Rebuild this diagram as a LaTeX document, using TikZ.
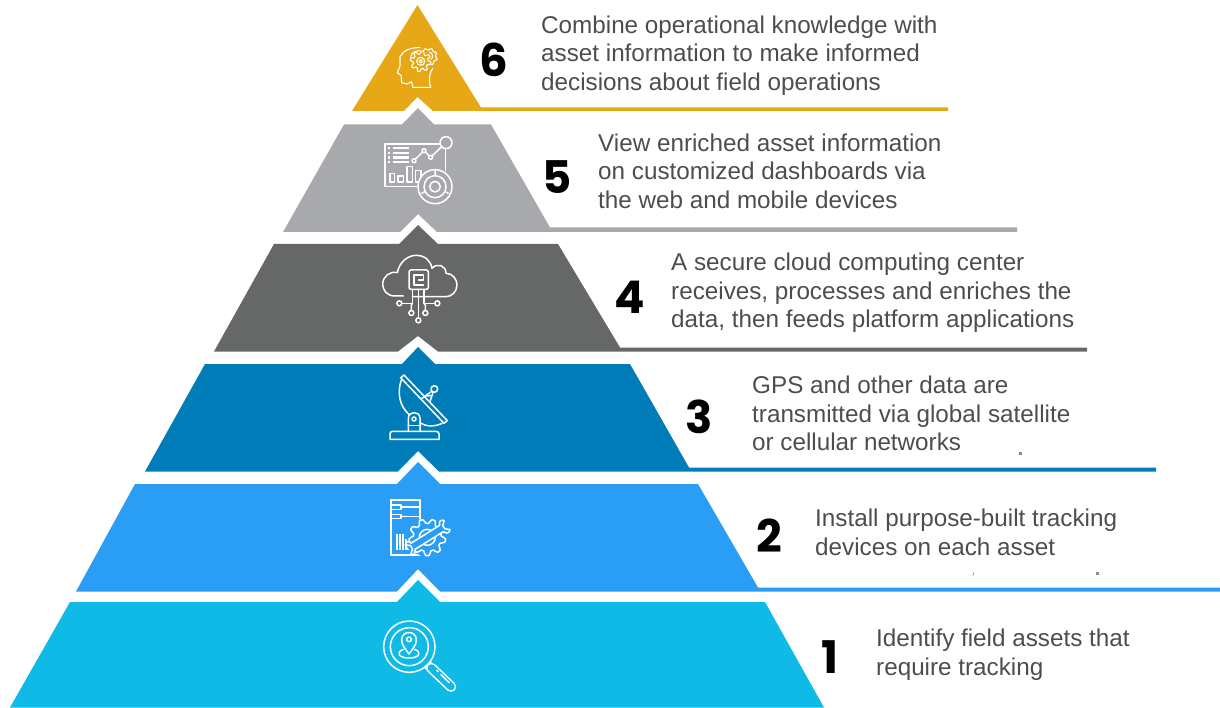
\documentclass[tikz,border=0pt]{standalone}
\usepackage{fontspec}
\setmainfont{Liberation Sans}
\newfontfamily\numfont{Poppins}
\definecolor{tsix}{HTML}{E6A817}
\definecolor{tfive}{HTML}{A7A9AC}
\definecolor{tfour}{HTML}{666867}
\definecolor{tthree}{HTML}{007DB8}
\definecolor{ttwo}{HTML}{2A9DF4}
\definecolor{tone}{HTML}{10BAE6}
\definecolor{bodytxt}{HTML}{4D4D4D}
\newcommand\cogpath[5]{%
  plot[samples=#5*8+1,domain=0:360,variable=\t]
  ({#1+(#3+(#4-#3)*max(0,min(1,2*sin(#5*\t)+0.5)))*cos(\t)},{#2+(#3+(#4-#3)*max(0,min(1,2*sin(#5*\t)+0.5)))*sin(\t)}) -- cycle}
\tikzset{
  desc/.style={anchor=west,align=left,inner sep=0pt,text=bodytxt,font=\fontsize{24.25}{28.7}\selectfont},
  num/.style={inner sep=0pt,text=black,font=\numfont\bfseries\fontsize{45}{45}\selectfont},
  ico/.style={draw=white,line width=1.5pt,line join=round,line cap=round},
  icosm/.style={draw=white,line width=1.1pt,line join=round,line cap=round},
  zoomed/.style={x=0.33333pt,y=-0.33333pt},
  stray/.style={fill=black!45,draw=none}
}
\begin{document}
\begin{tikzpicture}[x=1pt,y=-1pt]
\useasboundingbox (0,0) rectangle (1220,708);
% tiers
\fill[tsix] (417.5,5) -- (481,107.5) -- (948,107.5) -- (948,111) -- (433,111) -- (417.5,97) -- (404,111) -- (352,111) -- cycle;
\fill[tfive] (344,124.5) -- (402,124.5) -- (418,108) -- (434,124.5) -- (491,124.5) -- (550,227.5) -- (1017,227.5) -- (1017,232) -- (437,232) -- (418,214) -- (400,232) -- (283,232) -- cycle;
\fill[tfour] (274,244) -- (399,244) -- (418,225) -- (438,244) -- (558,244) -- (620,347.5) -- (1087,347.5) -- (1087,351.5) -- (438,351.5) -- (418,336) -- (398,351.5) -- (214,351.5) -- cycle;
\fill[tthree] (205,364) -- (402,364) -- (418,347) -- (435,364) -- (630,364) -- (689,467.5) -- (1156,467.5) -- (1156,471.5) -- (439,471.5) -- (418,451) -- (398,471.5) -- (145,471.5) -- cycle;
\fill[ttwo] (135,484) -- (397,484) -- (418,462) -- (440,484) -- (698,484) -- (758,587.5) -- (1220,587.5) -- (1220,591.5) -- (440,591.5) -- (418,569) -- (397,591.5) -- (76,591.5) -- cycle;
\fill[tone] (70,602) -- (397,602) -- (418,580) -- (440,602) -- (765,602) -- (824,707.5) -- (10,707.5) -- cycle;
% numbers
\node[num] (n6) at (493.5,60) {6};
\node[num] (n5) at (557,177.5) {5};
\node[num] (n4) at (629.5,297) {4};
\node[num] (n3) at (699.5,416.5) {3};
\node[num] (n2) at (769,536) {2};
\node[num] (n1) at (830,657) {1};
% texts
\node[desc] (t6) at (541,56) {\strut Combine operational knowledge with\\\strut asset information to make informed\\\strut decisions about field operations};
\node[desc] (t5) at (598,174) {\strut View enriched asset information\\\strut on customized dashboards via\\\strut the web and mobile devices};
\node[desc] (t4) at (671,293.5) {\strut A secure cloud computing center\\\strut receives, processes and enriches the\\\strut data, then feeds platform applications};
\node[desc] (t3) at (752,416.5) {\strut GPS and other data are\\\strut transmitted via global satellite\\\strut or cellular networks};
\node[desc] (t2) at (815,535) {\strut Install purpose-built tracking\\\strut devices on each asset};
\node[desc] (t1) at (876,655) {\strut Identify field assets that\\\strut require tracking};
% stray marks
\fill[stray] (1019,452) rectangle (1021.5,455);
\fill[stray] (1096,571.5) rectangle (1099,574.5);
\draw[black!45,line width=0.8pt] (972.8,575.5) -- (973.8,572.5);
% icon 6: head with gears
\begin{scope}[zoomed,shift={(340pt,0pt)}]
\draw[icosm] (272,262) -- (218,262) -- (215,245) -- (200,252) -- (185,248) -- (183,226) -- (172,218) -- (180,198) -- (180,170) .. controls (190,150) and (215,142) .. (240,143);
\draw[icosm] (272,262) .. controls (266,240) and (266,225) .. (278,205);
\draw[icosm] (212,172) .. controls (212,160) and (225,152) .. (240,152);
\draw[icosm] \cogpath{242}{184}{22}{31}{8};
\draw[icosm] (242,184) circle (12);
\draw[icosm] (242,184) circle (5);
\draw[icosm] (250,152) -- (255,146) -- (265,150) -- (275,145) -- (280,155) -- (290,158) -- (286,168) -- (292,178) -- (282,184) -- (278,194) -- (268,192);
\draw[icosm] (268,156) .. controls (280,158) and (280,176) .. (272,178);
\end{scope}
% icon 5: dashboard
\begin{scope}[zoomed,shift={(340pt,0pt)}]
\draw[ico] (300,432) -- (135,432) -- (135,560) -- (240,560);
\draw[ico] (316,446) -- (316,512);
\draw[ico] (318,428) circle (18);
\draw[ico] (222,482) circle (6);
\draw[ico] (252,452) circle (6);
\draw[ico] (272,472) circle (6);
\draw[ico] (226,478) -- (248,456) (256,456) -- (268,468) (276,468) -- (304,441);
\foreach \yy in {445,459,473,487} {
  \fill[white] (144,\yy-3.5) rectangle (151,\yy+3.5);
  \fill[white] (158,\yy-3.5) rectangle (207,\yy+3.5);
}
\draw[ico] (150,520) rectangle (163,546);
\draw[ico] (174,528) rectangle (190,546);
\draw[ico] (201,500) rectangle (217,546);
\draw[ico] (227,512) rectangle (243,546);
\fill[tfive] (285,560) circle (52);
\draw[ico] (285,560) circle (51);
\draw[ico] (285,560) circle (33);
\draw[ico] (285,560) circle (16);
\draw[ico] (285,510) -- (285,527) (245,580) -- (256,574) (325,580) -- (314,574);
\end{scope}
% icon 4: cloud chip
\begin{scope}[zoomed,shift={(340pt,-230pt)}]
\draw[ico] (190,198) -- (165,198) .. controls (140,198) and (128,180) .. (128,162) .. controls (128,140) and (150,122) .. (172,128) .. controls (178,95) and (205,76) .. (228,76) .. controls (255,76) and (272,92) .. (276,115) .. controls (290,98) and (318,105) .. (318,130) .. controls (338,130) and (351,148) .. (351,165) .. controls (351,185) and (335,200) .. (318,200) -- (218,200);
\fill[tfour] (205,118) rectangle (267,180);
\draw[ico,rounded corners=2pt] (207,120) rectangle (265,178);
\draw[ico] (250,165) -- (222,165) -- (222,135) -- (250,135) -- (250,150) -- (236,150);
\draw[ico] (217,178) -- (217,220) -- (186,220);
\draw[ico] (235,178) -- (235,263);
\draw[ico] (252,178) -- (252,220) -- (284,220);
\draw[ico] (214,241) -- (214,225) -- (217,220);
\draw[ico] (256,241) -- (256,225) -- (252,220);
\foreach \cx/\cy in {178/220,292/220,214/249,256/249,235/271} \draw[ico] (\cx,\cy) circle (7.5);
\end{scope}
% icon 3: satellite dish
\begin{scope}[zoomed,shift={(340pt,-230pt)}]
\draw[ico] (182,443) -- (192,435) -- (322,572) -- (312,580) -- cycle;
\draw[ico] (184,450) .. controls (170,490) and (180,530) .. (207,553);
\draw[ico] (240,578) .. controls (262,592) and (285,590) .. (306,580);
\draw[ico] (246,505) -- (275,484) (270,515) -- (279,487) (258,498) -- (272,497);
\draw[ico] (283,477) circle (10);
\draw[ico] (205,603) -- (205,565) .. controls (205,542) and (240,542) .. (240,565) -- (240,603);
\draw[ico] (222,567) circle (6);
\draw[ico] (205,586) -- (240,586);
\draw[ico] (150,628) -- (150,612) .. controls (150,607) and (152,604) .. (158,604) -- (288,604) .. controls (294,604) and (297,607) .. (297,612) -- (297,628) -- cycle;
\end{scope}
% icon 2: document with gear and wrench
\begin{scope}[zoomed,shift={(340pt,-470pt)}]
\draw[ico] (240,150) -- (240,90) -- (153,90) -- (153,255) -- (240,255);
\draw[icosm] (153,105) -- (183,105) -- (183,118) -- (153,118);
\draw[icosm] (153,133) -- (183,133) -- (183,146) -- (153,146);
\draw[icosm] (183,111) -- (240,111) (183,139) -- (240,139);
\foreach \xx/\yt in {170/192,179/192,188/192,197/208} \fill[white] (\xx-2.5,\yt) rectangle (\xx+2.5,240);
\fill[white] (202,232) rectangle (207,240);
\fill[white] (211,232) rectangle (216,240);
\fill[ttwo] (262,202) circle (58);
\draw[ico] \cogpath{262}{202}{42}{55}{9};
\draw[ico] (262,202) circle (24);
\fill[ttwo,rotate around={32:(262,202)}] (196,191) rectangle (330,213);
\draw[ico,rotate around={32:(262,202)}] (212,191) -- (312,191) (212,213) -- (312,213);
\draw[ico,rotate around={32:(262,202)}] (212,191) .. controls (205,176) and (198,180) .. (194,186) -- (206,196) -- (206,208) -- (194,218) .. controls (198,226) and (205,226) .. (212,213);
\draw[ico,rotate around={32:(262,202)}] (312,191) .. controls (318,176) and (326,180) .. (332,186) -- (320,196) -- (320,208) -- (332,218) .. controls (326,226) and (318,226) .. (312,213);
\end{scope}
% icon 1: magnifier with pin
\begin{scope}[zoomed,shift={(340pt,-470pt)}]
\draw[ico] (208,530) circle (77);
\draw[ico] (208,530) circle (57);
\draw[ico] (207,552) .. controls (195,535) and (185,525) .. (185,510) .. controls (185,480) and (229,480) .. (229,510) .. controls (229,525) and (219,535) .. (207,552);
\draw[ico] (207,508) circle (7);
\draw[ico] (190,538) .. controls (165,548) and (178,564) .. (207,564) .. controls (236,564) and (249,548) .. (224,538);
\draw[ico] (254,592) -- (264,602) (270,576) -- (280,586);
\draw[white,line width=10.5pt,line cap=round] (274,594) -- (333,650);
\draw[tone,line width=7.5pt,line cap=round] (274,594) -- (333,650);
\draw[ico] (290,601) -- (294,605) (303,614) -- (328,638);
\end{scope}
\end{tikzpicture}
\end{document}
